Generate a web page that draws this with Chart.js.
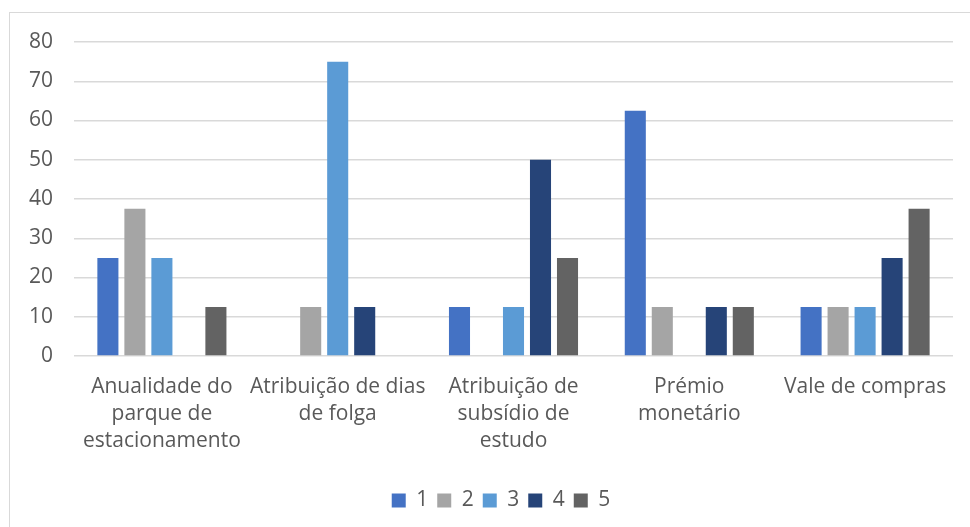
<!DOCTYPE html>
<html>
<head>
<meta charset="utf-8">
<script src="https://cdn.jsdelivr.net/npm/chart.js@4/dist/chart.umd.min.js"></script>
<style>
  html, body { margin: 0; padding: 0; background: #fff; overflow: hidden; }
  #wrap { position: relative; width: 970px; height: 527px; }
  #frame { position: absolute; left: 9px; top: 12px; width: 980px; height: 540px; border: 1px solid #d9d9d9; box-sizing: border-box; }
  canvas { position: absolute; left: 0; top: 0; }
</style>
</head>
<body>
<div id="wrap">
  <div id="frame"></div>
  <canvas id="myChart" width="970" height="527"></canvas>
</div>
<script>
/* global Chart */
var categories = [
  ['Anualidade do', 'parque de', 'estacionamento'],
  ['Atribuição de dias', 'de folga'],
  ['Atribuição de', 'subsídio de', 'estudo'],
  ['Prémio', 'monetário'],
  ['Vale de compras']
];
var serie1 = [25, 0, 12.5, 62.5, 12.5];
var serie2 = [37.5, 12.5, 0, 12.5, 12.5];
var serie3 = [25, 75, 12.5, 0, 12.5];
var serie4 = [0, 12.5, 50, 12.5, 25];
var serie5 = [12.5, 0, 25, 12.5, 37.5];
var yTicks = [0, 10, 20, 30, 40, 50, 60, 70, 80];

var textColor = '#595959';
var fontFamily = '"Open Sans", "Liberation Sans", sans-serif';

// excel centres the legend a bit right of the canvas middle
var legendShift = {
  id: 'legendShift',
  beforeDraw: function(chart) {
    if (!chart.legend._shifted) {
      chart.legend.left += 49;
      chart.legend._shifted = true;
    }
  }
};

var ctx = document.getElementById('myChart');
var myChart = new Chart(ctx, {
  type: 'bar',
  data: {
    labels: categories,
    datasets: [
      { label: '1', data: serie1, backgroundColor: '#4472C4' },
      { label: '2', data: serie2, backgroundColor: '#A5A5A5' },
      { label: '3', data: serie3, backgroundColor: '#5B9BD5' },
      { label: '4', data: serie4, backgroundColor: '#264478' },
      { label: '5', data: serie5, backgroundColor: '#636363' }
    ]
  },
  plugins: [legendShift],
  options: {
    responsive: false,
    animation: false,
    datasets: {
      bar: { categoryPercentage: 0.768, barPercentage: 0.78, borderWidth: 0 }
    },
    layout: { padding: { left: 0, right: 17, top: 42, bottom: 6 } },
    plugins: {
      tooltip: { enabled: false },
      legend: {
        position: 'bottom',
        labels: {
          color: textColor,
          font: { family: fontFamily, size: 21 },
          boxWidth: 14,
          boxHeight: 14,
          padding: 9
        }
      }
    },
    scales: {
      x: {
        grid: { display: false },
        border: { display: false },
        ticks: {
          color: textColor,
          font: { family: fontFamily, size: 21, lineHeight: 1.3 },
          maxRotation: 0,
          autoSkip: false,
          padding: 9
        },
        afterFit: function(scale) { scale.height = 125; }
      },
      y: {
        min: 0,
        max: 80,
        afterBuildTicks: function(scale) {
          scale.ticks = yTicks.map(function(v) { return { value: v }; });
        },
        grid: { color: '#d9d9d9', lineWidth: 1.5, drawTicks: false },
        border: { display: false },
        ticks: {
          color: textColor,
          font: { family: fontFamily, size: 21 },
          padding: 21
        },
        afterFit: function(scale) { scale.width = 74; }
      }
    }
  }
});
</script>
</body>
</html>
